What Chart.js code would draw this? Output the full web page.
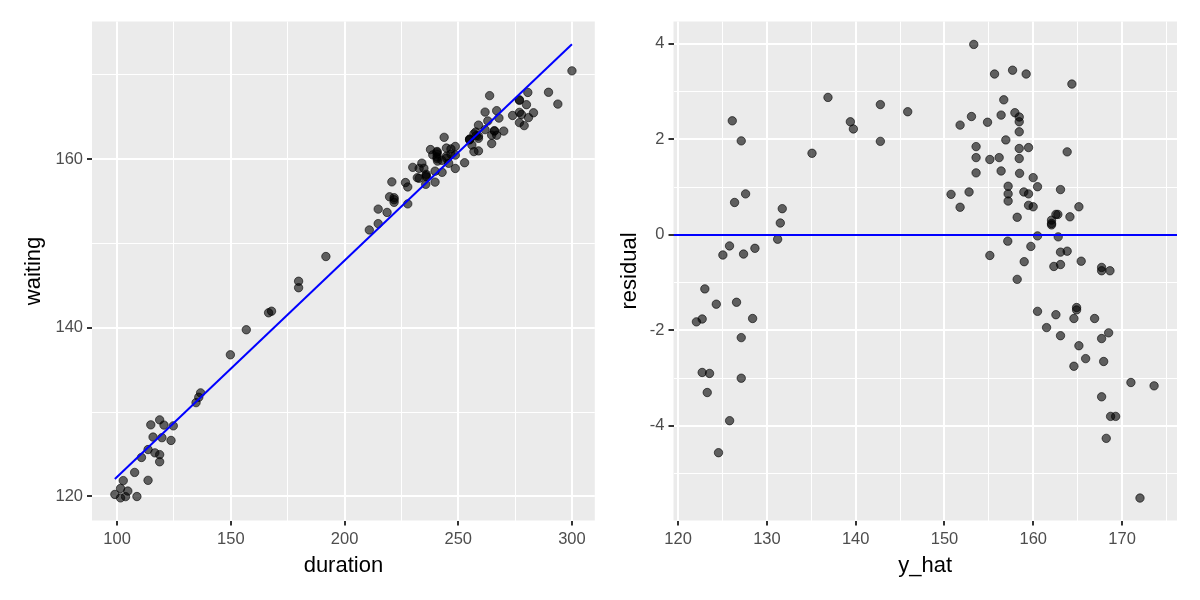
<!DOCTYPE html>
<html>
<head>
<meta charset="utf-8">
<title>waiting vs duration, residuals</title>
<script src="https://cdn.jsdelivr.net/npm/chart.js@4.4.1/dist/chart.umd.min.js"></script>
<style>
    html, body { margin: 0; padding: 0; background: #ffffff; }
    #wrap { width: 1200px; height: 600px; display: flex; }
    #wrap canvas { display: block; }
</style>
</head>
<body>
<div id="wrap">
    <canvas id="fitChart" width="600" height="600"></canvas>
    <canvas id="residChart" width="600" height="600"></canvas>
</div>
<script>
// Left panel: observed points
const duration = [
    114.8, 118.7, 149.8, 120.6, 115.8, 136.7, 135.9, 134.7, 113.6, 124.7,
    110.7, 119.7, 102.7, 107.7, 116.6, 101.5, 99.0, 123.7, 118.7, 101.5,
    104.7, 118.7, 103.7, 113.6, 108.7,
    156.8, 166.6, 167.9, 179.8, 179.8, 191.8,
    220.8, 230.0, 237.8, 243.8, 263.8, 234.0, 219.8, 214.8, 226.8, 232.8,
    238.8, 240.7, 240.7, 240.7, 234.9, 221.8, 240.7, 244.8, 261.8, 221.8,
    227.8, 232.0, 240.7, 221.8, 232.8, 240.9,
    246.8, 235.9, 248.7, 258.9, 210.9, 218.7, 235.9, 235.9, 242.8, 244.8,
    214.8, 244.8, 246.8, 266.9, 239.8, 256.9, 257.7, 263.0, 255.0, 255.0,
    255.0, 248.7, 257.9, 235.7, 245.8, 227.8,
    258.9, 261.8, 242.9, 256.0, 258.9, 267.9, 276.9, 276.9, 280.6, 239.8,
    248.7, 256.9, 265.9, 265.9, 264.7, 273.9, 252.8, 258.9, 280.0, 276.9,
    266.9, 270.0, 277.8, 264.7, 289.7, 300.0, 276.9, 280.9, 283.1, 279.0,
    293.8
];
const waiting = [
    128.49, 129.08, 136.79, 128.46, 127.04, 132.28, 131.76, 131.12, 125.56, 128.37,
    124.62, 126.97, 121.88, 122.85, 125.17, 120.95, 120.24, 126.64, 124.96, 119.83,
    120.64, 124.11, 119.98, 121.91, 119.99,
    139.76, 141.77, 141.96, 145.51, 144.74, 148.44,
    157.29, 159.01, 161.12, 162.57, 167.51, 159.51, 155.52, 154.06, 157.21, 158.89,
    160.49, 160.89, 160.79, 160.58, 158.90, 155.41, 160.23, 161.30, 165.56, 155.18,
    156.69, 157.78, 160.02, 154.86, 157.72, 159.75,
    161.19, 158.19, 161.49, 164.02, 151.59, 153.67, 158.03, 157.88, 159.84, 160.33,
    152.34, 160.09, 160.58, 165.73, 158.56, 162.98, 163.20, 164.51, 162.37, 162.30,
    162.27, 160.46, 162.77, 157.00, 159.49, 154.68,
    162.71, 163.48, 158.42, 161.66, 162.45, 164.85, 167.02, 166.95, 167.89, 157.26,
    158.88, 160.88, 163.36, 163.31, 162.83, 165.16, 159.56, 160.96, 166.44, 165.53,
    162.82, 163.31, 165.28, 161.83, 167.91, 170.45, 164.31, 164.91, 165.48, 163.96,
    166.51
];

// Left panel: fitted line end points
const fitDuration = [99.0, 300.0];
const fitWaiting = [122.06, 173.61];

// Right panel: fitted values and residuals
const yHat = [
    126.10, 127.11, 135.08, 127.60, 126.36, 131.73, 131.51, 131.21, 125.79, 128.65,
    125.04, 127.37, 123.01, 124.30, 126.58, 122.71, 122.06, 128.39, 127.11, 122.71,
    123.54, 127.11, 123.28, 125.80, 124.55,
    136.88, 139.40, 139.74, 142.78, 142.78, 145.86,
    153.30, 155.64, 157.67, 159.20, 164.35, 156.68, 153.04, 151.76, 154.85, 156.38,
    157.93, 158.42, 158.42, 158.42, 156.91, 153.56, 158.42, 159.47, 163.82, 153.56,
    155.11, 156.16, 158.42, 153.56, 156.38, 158.46,
    159.99, 157.17, 160.48, 163.07, 150.74, 152.77, 157.17, 157.17, 158.94, 159.47,
    151.76, 159.47, 159.99, 165.14, 158.19, 162.55, 162.77, 164.13, 162.06, 162.06,
    162.06, 160.48, 162.81, 157.13, 159.73, 155.11,
    163.07, 163.82, 158.98, 162.32, 163.07, 165.40, 167.70, 167.70, 168.64, 158.19,
    160.48, 162.55, 164.88, 164.88, 164.58, 166.91, 161.50, 163.07, 168.49, 167.70,
    165.14, 165.90, 167.93, 164.58, 171.00, 173.61, 167.70, 168.71, 169.28, 168.22,
    172.02
];
const residual = [
    2.39, 1.97, 1.71, 0.86, 0.68, 0.55, 0.25, -0.09, -0.23, -0.28,
    -0.42, -0.40, -1.13, -1.45, -1.41, -1.76, -1.82, -1.75, -2.15, -2.88,
    -2.90, -3.00, -3.30, -3.89, -4.56,
    2.88, 2.37, 2.22, 2.73, 1.96, 2.58,
    3.99, 3.37, 3.45, 3.37, 3.16, 2.83, 2.48, 2.30, 2.36, 2.51,
    2.56, 2.47, 2.37, 2.16, 1.99, 1.85, 1.81, 1.83, 1.74, 1.62,
    1.58, 1.62, 1.60, 1.30, 1.34, 1.29,
    1.20, 1.02, 1.01, 0.95, 0.85, 0.90, 0.86, 0.71, 0.90, 0.86,
    0.58, 0.62, 0.59, 0.59, 0.37, 0.43, 0.43, 0.38, 0.31, 0.24,
    0.21, -0.02, -0.04, -0.13, -0.24, -0.43,
    -0.36, -0.34, -0.56, -0.66, -0.62, -0.55, -0.68, -0.75, -0.75, -0.93,
    -1.60, -1.67, -1.52, -1.57, -1.75, -1.75, -1.94, -2.11, -2.05, -2.17,
    -2.32, -2.59, -2.65, -2.75, -3.09, -3.16, -3.39, -3.80, -3.80, -4.26,
    -5.51
];

// Axis limits and tick labels
const durationLimits = [88.95, 310.05];
const waitingLimits = [117.15, 176.3];
const yHatLimits = [119.48, 176.19];
const residualLimits = [-5.98, 4.47];

const durationTicks = [100, 150, 200, 250, 300];
const durationMinor = [125, 175, 225, 275];
const waitingTicks = [120, 140, 160];
const waitingMinor = [130, 150, 170];
const yHatTicks = [120, 130, 140, 150, 160, 170];
const yHatMinor = [125, 135, 145, 155, 165, 175];
const residualTicks = [-4, -2, 0, 2, 4];
const residualMinor = [-5, -3, -1, 1, 3];

// ggplot-ish look
const COLORS = {
    panel: '#EBEBEB',
    grid: '#FFFFFF',
    tick: '#333333',
    tickText: '#4D4D4D',
    title: '#000000',
    point: 'rgba(0, 0, 0, 0.6)',
    fit: '#0000FF'
};
const FONT_FAMILY = '"Liberation Sans", Arial, Helvetica, sans-serif';

/**
 * Paint the grey panel behind the grid
 */
const panelBackground = {
    id: 'panelBackground',
    beforeDraw(chart) {
        const { ctx, chartArea: a } = chart;
        ctx.save();
        ctx.fillStyle = COLORS.panel;
        ctx.fillRect(a.left, a.top, a.right - a.left, a.bottom - a.top);
        ctx.restore();
    }
};

/**
 * Build one axis with major + minor grid lines
 */
function makeAxis(opts) {
    const { limits, major, minor, title, isX, size, titlePad } = opts;
    return {
        type: 'linear',
        position: isX ? 'bottom' : 'left',
        min: limits[0],
        max: limits[1],
        border: { display: false },
        afterBuildTicks(scale) {
            const list = major.map(v => ({ value: v, minor: false }))
                .concat(minor.map(v => ({ value: v, minor: true })));
            list.sort((p, q) => p.value - q.value);
            scale.ticks = list;
        },
        afterFit(scale) {
            if (isX) scale.height = size;
            else scale.width = size;
        },
        grid: {
            color: COLORS.grid,
            lineWidth: ctx => (ctx.tick && ctx.tick.minor ? 1 : 2),
            tickColor: ctx => (ctx.tick && ctx.tick.minor ? 'rgba(0,0,0,0)' : COLORS.tick),
            tickWidth: 2,
            tickLength: 5
        },
        ticks: {
            autoSkip: false,
            maxRotation: 0,
            padding: 4,
            color: COLORS.tickText,
            font: { family: FONT_FAMILY, size: 16.5 },
            callback(value, index, ticks) {
                return ticks[index].minor ? '' : String(value);
            }
        },
        title: {
            display: true,
            text: title,
            color: COLORS.title,
            font: { family: FONT_FAMILY, size: 22 },
            padding: titlePad
        }
    };
}

function toPoints(xs, ys) {
    return xs.map((x, i) => ({ x: x, y: ys[i] }));
}

function pointDataset(xs, ys) {
    return {
        data: toPoints(xs, ys),
        backgroundColor: COLORS.point,
        borderColor: COLORS.point,
        borderWidth: 1,
        pointRadius: 4.2,
        order: 1
    };
}

function lineDataset(xs, ys) {
    return {
        data: toPoints(xs, ys),
        showLine: true,
        borderColor: COLORS.fit,
        borderWidth: 2,
        pointRadius: 0,
        order: 0
    };
}

const baseOptions = {
    responsive: false,
    animation: false,
    events: [],
    plugins: {
        legend: { display: false },
        tooltip: { enabled: false }
    }
};

new Chart(document.getElementById('fitChart'), {
    type: 'scatter',
    data: {
        datasets: [
            lineDataset(fitDuration, fitWaiting),
            pointDataset(duration, waiting)
        ]
    },
    options: {
        ...baseOptions,
        layout: { padding: { top: 21.5, right: 5, bottom: 0, left: 0 } },
        scales: {
            x: makeAxis({ limits: durationLimits, major: durationTicks, minor: durationMinor,
                title: 'duration', isX: true, size: 79.5, titlePad: { top: 0, bottom: 21 } }),
            y: makeAxis({ limits: waitingLimits, major: waitingTicks, minor: waitingMinor,
                title: 'waiting', isX: false, size: 92, titlePad: { top: 21, bottom: 0 } })
        }
    },
    plugins: [panelBackground]
});

new Chart(document.getElementById('residChart'), {
    type: 'scatter',
    data: {
        datasets: [
            lineDataset(yHatLimits, [0, 0]),
            pointDataset(yHat, residual)
        ]
    },
    options: {
        ...baseOptions,
        layout: { padding: { top: 21.5, right: 23, bottom: 0, left: 0 } },
        scales: {
            x: makeAxis({ limits: yHatLimits, major: yHatTicks, minor: yHatMinor,
                title: 'y_hat', isX: true, size: 79.5, titlePad: { top: 0, bottom: 21 } }),
            y: makeAxis({ limits: residualLimits, major: residualTicks, minor: residualMinor,
                title: 'residual', isX: false, size: 73.5, titlePad: { top: 17, bottom: 0 } })
        }
    },
    plugins: [panelBackground]
});
</script>
</body>
</html>
